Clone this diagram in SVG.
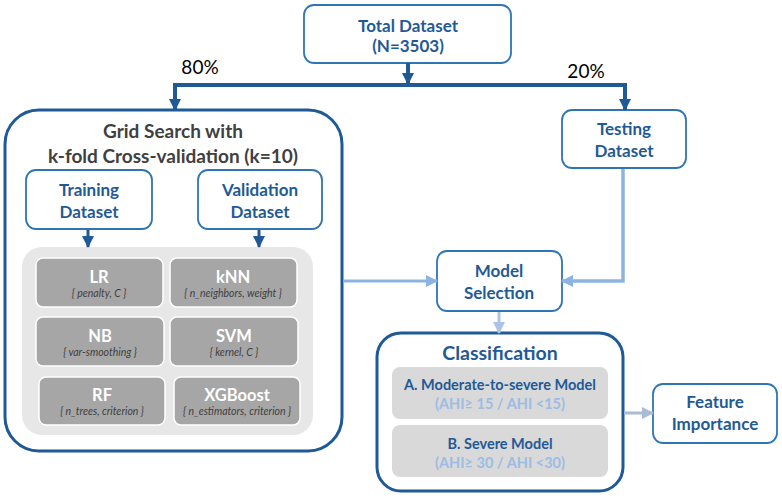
<svg xmlns="http://www.w3.org/2000/svg" width="782" height="496" viewBox="0 0 782 496">
<style>
text{font-family:Lato,"Open Sans","Liberation Sans",sans-serif;text-anchor:middle;dominant-baseline:central}
.node{fill:#fff;stroke:#2E75B6;stroke-width:1.8}
.big{fill:#fff;stroke:#1F5A96;stroke-width:3}
.lbl{font-weight:bold;font-size:17px;fill:#1F5A96}
.gt{font-weight:bold;font-size:19px;fill:#404040}
.mdl{fill:#A6A6A6;stroke:#fff;stroke-width:1.5}
.mt{font-weight:bold;font-size:16.5px;fill:#fff}
.mp{font-style:italic;font-size:10.5px;fill:#404040}
.sub{fill:#D9D9D9}
.st{font-weight:bold;font-size:14.5px;fill:#1F5A96}
.sp{font-weight:bold;font-size:14.5px;fill:#9DBCE3}
.pct{font-size:19px;fill:#000}
</style>
<defs>
<marker id="ad" markerUnits="userSpaceOnUse" markerWidth="12" markerHeight="12" refX="11" refY="6" orient="auto"><path d="M0,0L12,6L0,12Z" fill="#1F5A96"/></marker>
<marker id="al" markerUnits="userSpaceOnUse" markerWidth="12" markerHeight="12" refX="11" refY="6" orient="auto"><path d="M0,0L12,6L0,12Z" fill="#8DB3E2"/></marker>
<marker id="ap" markerUnits="userSpaceOnUse" markerWidth="12" markerHeight="12" refX="11" refY="6" orient="auto"><path d="M0,0L12,6L0,12Z" fill="#A9C4E8"/></marker>
<marker id="ag" markerUnits="userSpaceOnUse" markerWidth="12" markerHeight="12" refX="11" refY="6" orient="auto"><path d="M0,0L12,6L0,12Z" fill="#A9BCD6"/></marker>
</defs>

<text class="pct" x="200" y="66">80%</text>
<text class="pct" x="586" y="70">20%</text>

<g id="total">
<rect class="node" x="304" y="5" width="207" height="58" rx="10"/>
<text class="lbl" x="408" y="25">Total Dataset</text>
<text class="lbl" x="408" y="45">(N=3503)</text>
</g>

<g id="testing">
<rect class="node" x="562" y="110" width="124" height="58" rx="10"/>
<text class="lbl" x="624" y="128">Testing</text>
<text class="lbl" x="624" y="150">Dataset</text>
</g>

<g id="gridsearch">
<rect class="big" x="5" y="110" width="337" height="341" rx="34"/>
<text class="gt" x="173" y="130">Grid Search with</text>
<text class="gt" x="173" y="155">k-fold Cross-validation (k=10)</text>
</g>

<g id="training">
<rect class="node" x="26" y="170" width="126" height="59" rx="10"/>
<text class="lbl" x="89" y="189">Training</text>
<text class="lbl" x="89" y="211">Dataset</text>
</g>

<g id="validation">
<rect class="node" x="198" y="170" width="124" height="59" rx="10"/>
<text class="lbl" x="260" y="189">Validation</text>
<text class="lbl" x="260" y="211">Dataset</text>
</g>

<g id="models">
<rect x="22" y="247" width="291" height="188" rx="20" fill="#E7E7E7"/>
<g id="lr"><rect class="mdl" x="36" y="258" width="127" height="49" rx="7"/><text class="mt" x="99" y="277">LR</text><text class="mp" x="99" y="293">{ penalty, C }</text></g>
<g id="knn"><rect class="mdl" x="170" y="258" width="127" height="49" rx="7"/><text class="mt" x="233" y="277">kNN</text><text class="mp" x="233" y="293">{ n_neighbors, weight }</text></g>
<g id="nb"><rect class="mdl" x="36" y="317" width="128" height="49" rx="7"/><text class="mt" x="100" y="336">NB</text><text class="mp" x="100" y="352">{ var-smoothing }</text></g>
<g id="svm"><rect class="mdl" x="170" y="317" width="128" height="49" rx="7"/><text class="mt" x="234" y="336">SVM</text><text class="mp" x="234" y="352">{ kernel, C }</text></g>
<g id="rf"><rect class="mdl" x="39" y="377" width="126" height="48" rx="7"/><text class="mt" x="102" y="395">RF</text><text class="mp" x="102" y="411">{ n_trees, criterion }</text></g>
<g id="xgb"><rect class="mdl" x="174" y="377" width="126" height="48" rx="7"/><text class="mt" x="237" y="395">XGBoost</text><text class="mp" x="237" y="411">{ n_estimators, criterion }</text></g>
</g>

<g id="selection">
<rect class="node" x="437" y="251" width="125" height="60" rx="10"/>
<text class="lbl" x="499" y="270">Model</text>
<text class="lbl" x="499" y="292">Selection</text>
</g>

<g id="classification">
<rect class="big" x="377" y="333" width="246" height="158" rx="24"/>
<text x="500" y="352" font-weight="bold" font-size="19.5" fill="#1F5A96">Classification</text>
<rect class="sub" x="392" y="367" width="216" height="52" rx="8"/>
<text class="st" x="500" y="384">A. Moderate-to-severe Model</text>
<text class="sp" x="500" y="403">(AHI≥ 15 / AHI &lt;15)</text>
<rect class="sub" x="392" y="425" width="216" height="52" rx="8"/>
<text class="st" x="500" y="443">B. Severe Model</text>
<text class="sp" x="500" y="462">(AHI≥ 30 / AHI &lt;30)</text>
</g>

<g id="feature">
<rect class="node" x="653" y="384" width="124" height="59" rx="10"/>
<text class="lbl" x="715" y="401">Feature</text>
<text class="lbl" x="715" y="423">Importance</text>
</g>

<g id="connectors" fill="none">
<path d="M408,63V84" stroke="#1F5A96" stroke-width="4" marker-end="url(#ad)"/>
<path d="M175,85H625" stroke="#1F5A96" stroke-width="4"/>
<path d="M175,83V110" stroke="#1F5A96" stroke-width="4" marker-end="url(#ad)"/>
<path d="M625,83V110" stroke="#1F5A96" stroke-width="4" marker-end="url(#ad)"/>
<path d="M88,230V247" stroke="#1F5A96" stroke-width="3" marker-end="url(#ad)"/>
<path d="M259,230V247" stroke="#1F5A96" stroke-width="3" marker-end="url(#ad)"/>
<path d="M343,281H437" stroke="#8DB3E2" stroke-width="3" marker-end="url(#al)"/>
<path d="M623,169V281H562" stroke="#8DB3E2" stroke-width="3.5" marker-end="url(#al)"/>
<path d="M499,312V333" stroke="#A9C4E8" stroke-width="3" marker-end="url(#ap)"/>
<path d="M624,413H653" stroke="#A9BCD6" stroke-width="3" marker-end="url(#ag)"/>
</g>
</svg>
